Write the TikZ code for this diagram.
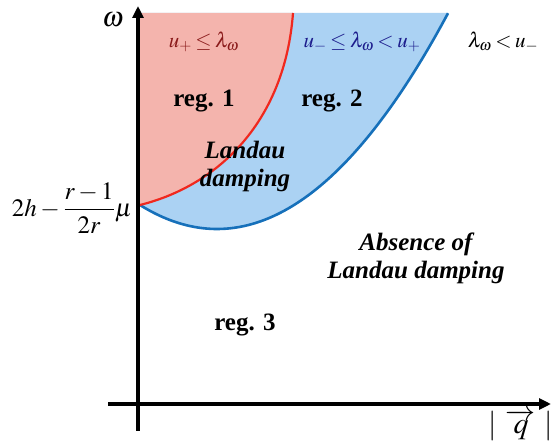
\documentclass[tikz,border=0pt]{standalone}
\usepackage{mathptmx}
\usepackage{amsmath}
\usepackage{fontspec}
\setmainfont{Liberation Serif}
\usetikzlibrary{arrows.meta}
\definecolor{redfill}{HTML}{F4B4AD}
\definecolor{redline}{HTML}{F0281E}
\definecolor{bluefill}{HTML}{ABD2F3}
\definecolor{blueline}{HTML}{1670BA}
\definecolor{darkred}{HTML}{8A1A1A}
\definecolor{darkblue}{HTML}{1C1C8C}
\newcommand{\tightmath}{\thickmuskip=3mu\relax\medmuskip=2mu\relax}
\tikzset{
  axis/.style={line width=3.6pt,-{Triangle[length=12pt,width=11pt]}},
  regtext/.style={font=\fontsize{25}{28}\selectfont\bfseries},
  bigital/.style={font=\fontsize{25}{28}\selectfont\bfseries\itshape,align=center},
  toplab/.style={font=\fontsize{21}{23}\selectfont},
}
\begin{document}
\begin{tikzpicture}[x=1pt,y=-1pt]
\useasboundingbox (0,0) rectangle (552,446);
% blue region
\fill[bluefill] (140,13) -- (448,13)
  -- plot[domain=448:140,samples=80] (\x,{229-0.00405*(\x-217)*(\x-217)}) -- cycle;
% red region
\fill[redfill] (140,13) -- (293,13) .. controls (285,120) and (220,185) .. (140,205) -- cycle;
% curves
\draw[blueline,line width=2.6pt] plot[domain=448:140,samples=80] (\x,{229-0.00405*(\x-217)*(\x-217)});
\draw[redline,line width=2.2pt] (293,13) .. controls (285,120) and (220,185) .. (140,205);
% axes
\coordinate (ybot) at (138,431);
\coordinate (ytop) at (138,6);
\coordinate (xl) at (108,404);
\coordinate (xr) at (551,404);
\draw[axis] (ybot) -- (ytop);
\draw[axis] (xl) -- (xr);
% labels
\node[font=\fontsize{28}{30}\selectfont,inner sep=0pt] (om) at (113,20) {$\omega$};
\node[toplab,text=darkred] (l1) at (204,42) {\tightmath$u_+ \leq \lambda_\omega$};
\node[toplab,text=darkblue] (l2) at (362,42) {\tightmath$u_{\mathbf{-}} \leq \lambda_\omega < u_+$};
\node[toplab] (l3) at (503,42) {\tightmath$\lambda_\omega < u_{\mathbf{-}}$};
\node[regtext] (r1) at (204,101) {reg. 1};
\node[regtext] (r2) at (332,101) {reg. 2};
\node[regtext] (r3) at (245,325) {reg. 3};
\node[bigital] (ld) at (245,166) {Landau\\damping};
\node[bigital] (ald) at (416,258) {Absence of\\Landau damping};
\node[font=\fontsize{25}{27}\selectfont,inner sep=0pt] (w0) at (72,208) {$2h-\dfrac{r-1}{2r}\mu$};
\node[font=\fontsize{30}{32}\selectfont,inner sep=0pt,anchor=base] (q) at (521,434) {$|\hspace{0.3em}\overrightarrow{q}\hspace{0.3em}|$};
\end{tikzpicture}
\end{document}
